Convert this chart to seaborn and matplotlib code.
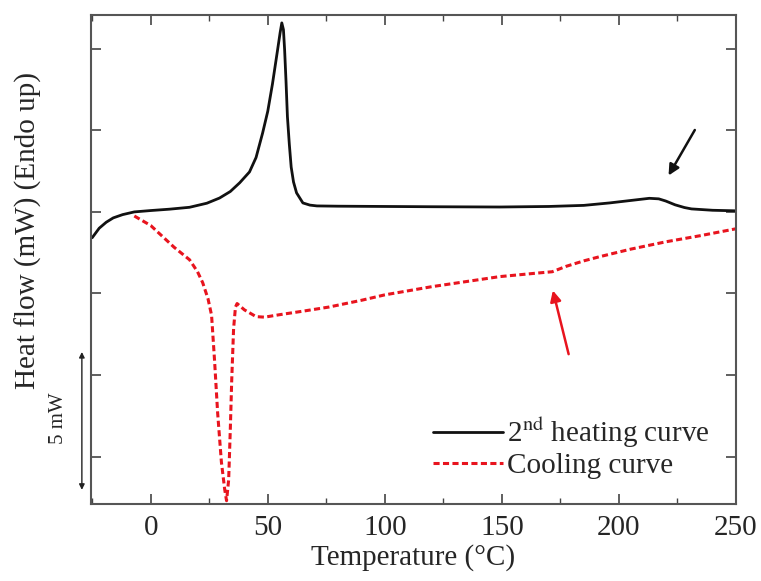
import matplotlib
matplotlib.use("Agg")
import matplotlib.pyplot as plt
from matplotlib.ticker import MultipleLocator
import seaborn as sns
import pandas as pd

# ---- data (y in mW, arbitrary offset) ----
heat_T = [-25, -22, -19, -16, -12, -7, 0, 8, 16.6, 24, 29.4, 34, 38, 42.2, 45,
          47.8, 50, 52, 54.2, 55.3, 56, 56.7, 57.2, 57.8, 58.4, 59.2, 60, 61,
          62.3, 65, 68, 71, 80, 100, 120, 149, 170, 185, 196, 205, 213, 217,
          220, 224, 228, 231, 240, 250]
heat_Q = [-0.95, -0.6, -0.38, -0.22, -0.1, 0.0, 0.05, 0.1, 0.17, 0.32, 0.51,
          0.75, 1.07, 1.47, 2.0, 2.9, 3.7, 4.7, 5.96, 6.6, 6.95, 6.7, 5.96, 4.8,
          3.5, 2.5, 1.65, 1.1, 0.7, 0.33, 0.25, 0.22, 0.21, 0.2, 0.19, 0.18,
          0.2, 0.24, 0.33, 0.42, 0.5, 0.48, 0.4, 0.26, 0.16, 0.11, 0.06, 0.04]

cool_T = [-7, -3, 0, 5, 10, 16.6, 20, 22.2, 24.5, 26, 27.3, 28.6, 30.2, 31.6,
          32.4, 33.3, 34.0, 34.6, 35.4, 36.2, 36.9, 38, 40, 43, 45, 48.6, 55,
          65, 76, 90, 100, 120, 149, 165, 171.5, 177.5, 185, 191.6, 205, 220,
          235, 250]
cool_Q = [-0.15, -0.35, -0.5, -0.9, -1.3, -1.76, -2.2, -2.6, -3.2, -3.8, -5.5,
          -7.4, -9.2, -10.2, -10.62, -9.85, -8.0, -6.2, -4.3, -3.5, -3.37,
          -3.45, -3.6, -3.75, -3.85, -3.87, -3.78, -3.65, -3.5, -3.25, -3.05,
          -2.75, -2.38, -2.25, -2.2, -2.0, -1.8, -1.65, -1.37, -1.1, -0.87,
          -0.62]

heat_label = "2$^{\\mathrm{nd}}$ heating curve"
cool_label = "Cooling curve"
x_ticks = [0, 50, 100, 150, 200, 250]

heat_df = pd.DataFrame({"T": heat_T, "Q": heat_Q})
cool_df = pd.DataFrame({"T": cool_T, "Q": cool_Q})

sns.set_style("ticks")
plt.rcParams["font.family"] = ["Liberation Serif", "DejaVu Serif"]
plt.rcParams["mathtext.fontset"] = "stix"

fig = plt.figure(figsize=(7.61, 5.81), dpi=100)
ax = fig.add_axes([91 / 761, (581 - 504) / 581, (736 - 91) / 761, (504 - 15) / 581])

sns.lineplot(data=heat_df, x="T", y="Q", ax=ax, color="#111111", lw=2.0,
             sort=False, estimator=None, label=heat_label)
sns.lineplot(data=cool_df, x="T", y="Q", ax=ax, color="#e8141e", lw=2.2,
             sort=False, estimator=None, label=cool_label, dashes=False)
ax.lines[1].set_dashes((2.0, 1.1))

ax.set_xlim(-25.5, 250)
ax.set_ylim(-10.74, 7.24)
ax.set_xticks(x_ticks)
ax.xaxis.set_minor_locator(MultipleLocator(25))
ax.set_yticks([-9, -6, -3, 0, 3, 6])
ax.set_yticklabels([])
ax.tick_params(axis="both", which="major", direction="in", length=7, width=1.2,
               top=True, right=True, labelsize=21, pad=8, color="#444444")
ax.tick_params(axis="x", which="minor", direction="in", length=4, width=1.0,
               top=True, color="#444444")
for s in ax.spines.values():
    s.set_linewidth(1.5)
    s.set_color("#555555")

ax.set_xlabel("Temperature (°C)", fontsize=21, labelpad=2)
ax.set_ylabel("Heat flow (mW) (Endo up)", fontsize=21)
ax.yaxis.set_label_coords(-0.076, 0.56)

# arrows
ax.annotate("", xy=(220.6, 1.25), xytext=(233, 3.1),
            arrowprops=dict(arrowstyle="-|>", color="#111111", lw=1.8,
                            mutation_scale=16))
ax.annotate("", xy=(171.5, -2.79), xytext=(178.8, -5.33),
            arrowprops=dict(arrowstyle="-|>", color="#e8141e", lw=1.8,
                            mutation_scale=16))

# 5 mW scale bar
ax.annotate("", xy=(-29.4, -5.15), xytext=(-29.4, -10.22),
            arrowprops=dict(arrowstyle="<|-|>", color="#222222", lw=1.0,
                            mutation_scale=8, shrinkA=0, shrinkB=0),
            annotation_clip=False)
ax.text(-39.5, -7.6, "5 mW", rotation=90, ha="center", va="center",
        fontsize=15, clip_on=False)

leg = ax.legend(loc="upper left", bbox_to_anchor=(0.512, 0.205), frameon=False,
                fontsize=21, handlelength=2.4, handletextpad=0.15,
                labelspacing=0.1, borderaxespad=0)

fig.savefig("out.png", dpi=100)
